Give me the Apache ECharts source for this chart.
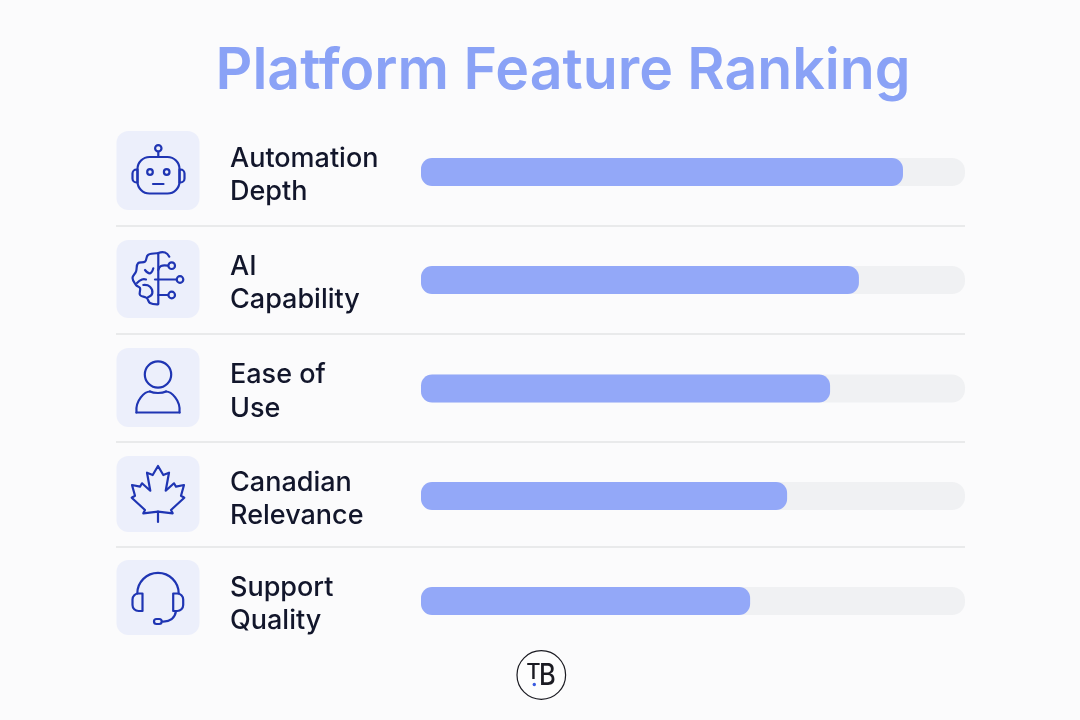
<!DOCTYPE html>
<html><head><meta charset="utf-8">
<style>html,body{margin:0;padding:0;background:#fbfbfc}#c{width:1080px;height:720px}</style>
<script src="https://cdn.jsdelivr.net/npm/echarts@6/dist/echarts.min.js"></script>
</head><body><div id="c"></div>
<script>
const categories = ['Automation\nDepth','AI\nCapability','Ease of\nUse','Canadian\nRelevance','Support\nQuality'];
const values = [88.6, 80.5, 75.2, 67.3, 60.5];
const titleText = 'Platform Feature Ranking';

const barCenters = [172, 280, 388.5, 496, 601];
const tiles = [[131,79],[240,78],[348,79],[456,76],[560,75]];
const seps = [226,334,442,547];
const INK = '#1f35b3', TILE = '#ecEffb';
const st = {stroke: INK, fill: 'none', lineWidth: 2.2, lineCap:'round', lineJoin:'round'};
const circle = (cx,cy,r,s)=>({type:'circle',shape:{cx,cy,r},style:{...st,...s}});
const line = (x1,y1,x2,y2)=>({type:'line',shape:{x1,y1,x2,y2},style:st});
const rect = (x,y,width,height,r)=>({type:'rect',shape:{x,y,width,height,r},style:st});
const poly = (points,smooth)=>({type:'polyline',shape:{points,smooth:smooth||0},style:st});
const pgon = (points)=>({type:'polygon',shape:{points},style:st});
const arc = (cx,cy,r,startAngle,endAngle)=>({type:'arc',shape:{cx,cy,r,startAngle,endAngle,clockwise:true},style:st});
const bez = (x1,y1,cpx1,cpy1,cpx2,cpy2,x2,y2)=>({type:'bezierCurve',shape:{x1,y1,cpx1,cpy1,cpx2,cpy2,x2,y2},style:st});
const leafRight = [[163.3,475],[169,472.7],[165.7,490.7],[174,483.3],[176,486.7],[184,485],[181,495.7],[184.3,497.7],[171,510],[172.7,513.3]];
const mirror = p=>[316-p[0],p[1]];

const icons = [
  // robot
  rect(137.5,157,42,36.5,12), rect(132.5,169.5,5,13,[4,0,0,4]), rect(179.5,169.5,5,13,[0,4,4,0]),
  line(158.3,157,158.3,151.5), circle(158.3,148.3,3.2), circle(150,172,2.8), circle(166.7,172,2.8), line(153,184,163.5,184),
  // brain
  poly([[158,253.3],[148,255],[145,261.7],[138,263.3],[136,271.7],[132.5,278],[136,285],[140,288],[140,295],[146.7,298],[150,303],[158,304.3]],0.4),
  line(158.3,253.5,158.3,304),
  poly([[158.3,253],[165,252.5],[169.3,256.7]],0.5),
  poly([[145,270],[150,273.3],[153.3,268.3]],0.5),
  poly([[143.3,285],[150,286.7],[152.3,293.3],[148,297.3]],0.5),
  poly([[137,283],[142,279.5],[146,279.5]],0.5),
  poly([[158.3,270],[161,266],[168,265.7]],0.4), circle(171.7,265.7,3.3),
  line(155,279.5,176.5,279.5), circle(180,279.5,3.3),
  poly([[158.3,295],[168,295]]), circle(171.7,295,3.3),
  // person
  circle(158,374.5,13.2),
  bez(136.5,412.5,135,400,145,391.5,150,391.5), bez(150,391.5,154,393.5,162,393.5,166,391.5), bez(166,391.5,171,391.5,181,400,179.5,412.5), line(136.5,412.5,179.5,412.5),
  // maple
  pgon([[158,466],...leafRight,[158,511.7],...leafRight.map(mirror).reverse()]),
  line(158,511.7,158,522),
  // headset
  arc(158,593.5,20.7,Math.PI,2*Math.PI),
  rect(132.5,593.5,10,17.5,[6,0,0,6]), rect(173.2,593.5,10,17.5,[0,6,6,0]),
  bez(176,611,175,618,170,622,162,621.5),
  rect(154,619,7.7,5,2.5)
];

const rows = [];
tiles.forEach(t=>rows.push({type:'rect',shape:{x:116.5,y:t[0],width:83,height:t[1],r:12},style:{fill:TILE},z:1}));
seps.forEach(y=>rows.push({type:'line',shape:{x1:116,y1:y,x2:965,y2:y},style:{stroke:'#e3e4e6',lineWidth:1.5},z:1}));
icons.forEach(i=>{i.z=3;rows.push(i)});
// logo
rows.push({type:'circle',z:3,shape:{cx:541.3,cy:675,r:24.3},style:{fill:'#fdfdfd',stroke:'#1b1b22',lineWidth:1.2}});
rows.push({type:'text',z:4,x:533.5,y:672.5,style:{text:'T',align:'center',verticalAlign:'middle',fill:'#1b1b22',font:'500 22px Inter, sans-serif'}});
rows.push({type:'text',z:4,x:547.3,y:675.5,scaleX:0.85,style:{text:'B',align:'center',verticalAlign:'middle',fill:'#1b1b22',font:'500 30px Inter, sans-serif'}});
rows.push({type:'circle',z:5,shape:{cx:534.3,cy:684.5,r:1.7},style:{fill:'#3a5be0'}});

const labelFormatter = v => '{s| }\n' + v.split('\n').map(t=>'{a|'+t+'}').join('\n');
const grid=[],xAxis=[],yAxis=[],series=[];
categories.forEach((c,i)=>{
  grid.push({left:421,width:544,top:barCenters[i]-20,height:40});
  xAxis.push({gridIndex:i,type:'value',min:0,max:100,show:false});
  yAxis.push({gridIndex:i,type:'category',data:[c],axisLine:{show:false},axisTick:{show:false},
    axisLabel:{show:true,align:'left',margin:191,formatter:labelFormatter,
      rich:{s:{fontSize:1,lineHeight:7},a:{color:'#12162b',fontFamily:'Inter, sans-serif',fontWeight:500,fontSize:27,lineHeight:33.5}}}});
  series.push({type:'bar',xAxisIndex:i,yAxisIndex:i,data:[values[i]],barWidth:28,silent:true,
    showBackground:true,backgroundStyle:{color:'#f0f1f3',borderRadius:13},
    itemStyle:{color:'#93a8f8',borderRadius:11}});
});

const chart = echarts.init(document.getElementById('c'),null,{renderer:'canvas'});
chart.setOption({
  animation:false,
  backgroundColor:'#fbfbfc',
  title:{text:titleText,left:558,textAlign:'center',top:38,textStyle:{color:'#8aa2f6',fontFamily:'Inter, sans-serif',fontWeight:600,fontSize:57.2}},
  grid,xAxis,yAxis,series,
  graphic:{elements:rows}
});
</script></body></html>
